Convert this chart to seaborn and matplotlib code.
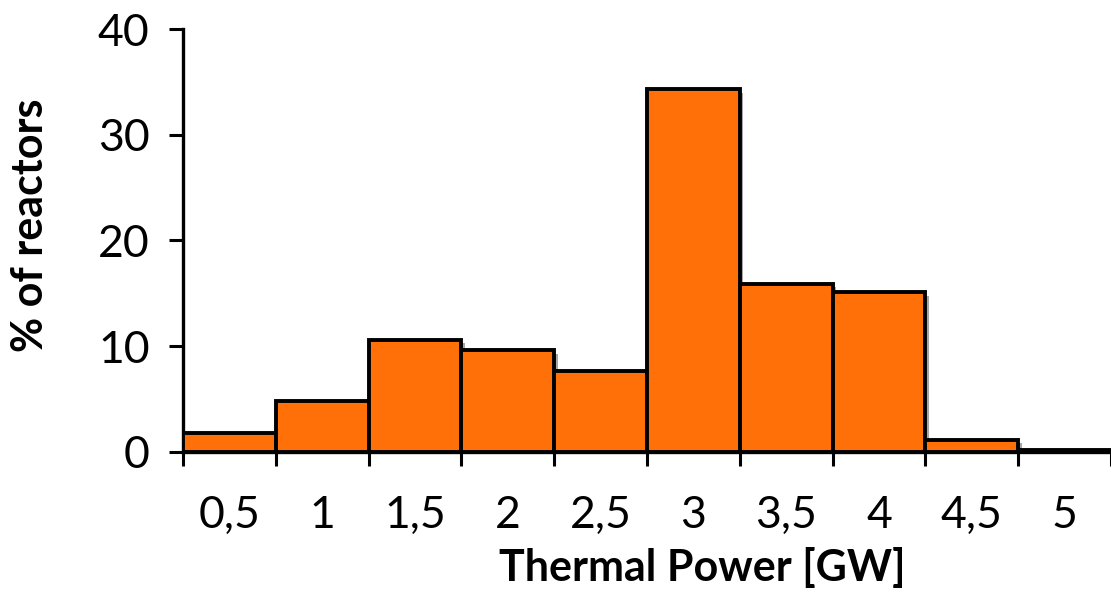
import matplotlib
matplotlib.use("Agg")
import matplotlib.pyplot as plt
import matplotlib.patheffects as pe
import seaborn as sns
import pandas as pd
import numpy as np

categories = ["0,5", "1", "1,5", "2", "2,5", "3", "3,5", "4", "4,5", "5"]
percent = [1.8, 4.85, 10.6, 9.6, 7.7, 34.3, 15.9, 15.1, 1.15, 0.2]
y_ticks = [0, 10, 20, 30, 40]

sns.set_style("white")
plt.rcParams['font.family'] = ['Lato', 'DejaVu Sans']
plt.rcParams['text.color'] = 'black'
plt.rcParams['axes.labelcolor'] = 'black'
plt.rcParams['xtick.color'] = 'black'
plt.rcParams['ytick.color'] = 'black'

df = pd.DataFrame({"cat": categories, "pct": percent})

fig = plt.figure(figsize=(11.11, 5.92), dpi=100)
ax = fig.add_axes([183/1111, 140/592, 928/1111, 423/592])

sns.barplot(data=df, x="cat", y="pct", ax=ax, width=1.0, color="#FF7108",
            saturation=1, edgecolor="black", linewidth=2.8, zorder=3)

for p in ax.patches:
    p.set_path_effects([pe.SimplePatchShadow(offset=(2.5, -2.5), alpha=0.35, shadow_rgbFace="black"),
                        pe.Normal()])

ax.set_xlim(-0.5, len(categories) - 0.5)
ax.set_ylim(0, 40)
ax.set_yticks(y_ticks)
ax.set_yticklabels([str(v) for v in y_ticks])

ax.set_xticks(np.arange(len(categories)))
ax.set_xticklabels(categories)
ax.set_xticks(np.arange(len(categories) + 1) - 0.5, minor=True)
ax.tick_params(axis="x", which="major", bottom=False, length=0, pad=31, labelsize=32, labelcolor="black")
ax.tick_params(axis="x", which="minor", bottom=True, length=10, width=2.2, color="black", direction="out")
ax.tick_params(axis="y", which="major", left=True, length=10, width=2.2, color="black", direction="out",
               labelsize=32, pad=14, labelcolor="black")

for s in ["top", "right"]:
    ax.spines[s].set_visible(False)
for s in ["left", "bottom"]:
    ax.spines[s].set_linewidth(2.4)
    ax.spines[s].set_color("black")
ax.spines["bottom"].set_zorder(5)

ax.set_xlabel("Thermal Power [GW]", fontsize=31, fontweight="bold", color="black")
ax.xaxis.set_label_coords(0.559, -0.225)
ax.set_ylabel("% of reactors", fontsize=31, fontweight="bold", color="black")
ax.yaxis.set_label_coords(-0.143, 0.537)

fig.savefig("out.png", dpi=100)
